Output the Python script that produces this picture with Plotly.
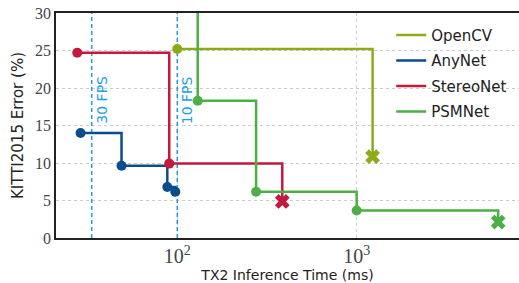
import math
import plotly.graph_objects as go

# ---- data ----
opencv_x = [100, 1227]
opencv_y = [25.2, 10.85]

anynet_x = [28.9, 48.9, 88, 97.5]
anynet_y = [14.0, 9.64, 6.8, 6.17]

stereonet_x = [27.7, 90.2, 385]
stereonet_y = [24.7, 9.92, 4.87]

psmnet_x = [130, 130, 275, 1000, 6150]
psmnet_y = [35, 18.3, 6.16, 3.67, 2.13]

fps_labels = ["30 FPS", "10 FPS"]
fps_times = [1000 / 30, 1000 / 10]

y_ticks = [0, 5, 10, 15, 20, 25, 30]

# ---- styles ----
colors = {
    "OpenCV": "#8cab17",
    "AnyNet": "#0d4c8c",
    "StereoNet": "#c4183d",
    "PSMNet": "#4caf45",
}
fps_color = "#1a9fe0"
sans = "DejaVu Sans"
serif = "Liberation Serif"

fig = go.Figure()

# FPS reference lines
for t in fps_times:
    fig.add_trace(go.Scatter(
        x=[t, t], y=[0, 30], mode="lines",
        line=dict(color=fps_color, width=1.5, dash="4px,3px"),
        showlegend=False, hoverinfo="skip"))

def symbols(n, last_x):
    s = ["circle"] * n
    if last_x:
        s[-1] = "x"
    return s

series = [
    ("AnyNet", anynet_x, anynet_y, False),
    ("StereoNet", stereonet_x, stereonet_y, True),
    ("OpenCV", opencv_x, opencv_y, True),
    ("PSMNet", psmnet_x, psmnet_y, True),
]
for name, xs, ys, lastx in series:
    syms = symbols(len(xs), lastx)
    sizes = [13 if s == "x" else 10 for s in syms]
    fig.add_trace(go.Scatter(
        x=xs, y=ys, mode="lines+markers", line_shape="hv",
        line=dict(color=colors[name], width=2.5),
        marker=dict(symbol=syms, size=sizes, color=colors[name],
                    opacity=1, line=dict(width=0)),
        showlegend=False, cliponaxis=True, hoverinfo="skip"))

# legend entries (lines only)
for name in ["OpenCV", "AnyNet", "StereoNet", "PSMNet"]:
    fig.add_trace(go.Scatter(
        x=[None], y=[None], mode="lines", name=name, legendgroup=name,
        line=dict(color=colors[name], width=2.5)))

annotations = []
for lab, t in zip(fps_labels, fps_times):
    annotations.append(dict(
        x=math.log10(t), y=18.4, xref="x", yref="y", text=lab,
        textangle=-90, showarrow=False, xshift=10,
        font=dict(family=sans, size=14, color=fps_color)))

fig.update_layout(
    width=519, height=283,
    margin=dict(l=56, r=0, t=13, b=45),
    plot_bgcolor="white", paper_bgcolor="white",
    annotations=annotations,
    legend=dict(x=0.724, y=0.975, xanchor="left", yanchor="top",
                bgcolor="rgba(0,0,0,0)", traceorder="grouped",
                font=dict(family=sans, size=15, color="#222"),
                tracegroupgap=3, itemwidth=30),
    xaxis=dict(
        type="log", range=[1.324, 3.905], dtick=1,
        exponentformat="power", showexponent="all",
        showgrid=True, gridcolor="#cccccc", griddash="dot", gridwidth=1,
        showline=True, linecolor="#222", linewidth=1.5, mirror=True,
        ticks="", zeroline=False,
        tickfont=dict(family=serif, size=16, color="#444"),
        title=dict(text="TX2 Inference Time (ms)", standoff=6,
                   font=dict(family=sans, size=14, color="#222"))),
    yaxis=dict(
        range=[0, 30], tickvals=y_ticks,
        showgrid=True, gridcolor="#cccccc", griddash="dot", gridwidth=1,
        showline=True, linecolor="#222", linewidth=1.5, mirror=False,
        ticks="", zeroline=False,
        tickfont=dict(family=serif, size=16, color="#444"),
        title=dict(text="KITTI2015 Error (%)", standoff=8,
                   font=dict(family=sans, size=15, color="#222"))),
)

fig.write_html("out.html",
               config={"displayModeBar": False},
               post_script="document.body.style.margin='0';"
                           "document.body.style.overflow='hidden';")
